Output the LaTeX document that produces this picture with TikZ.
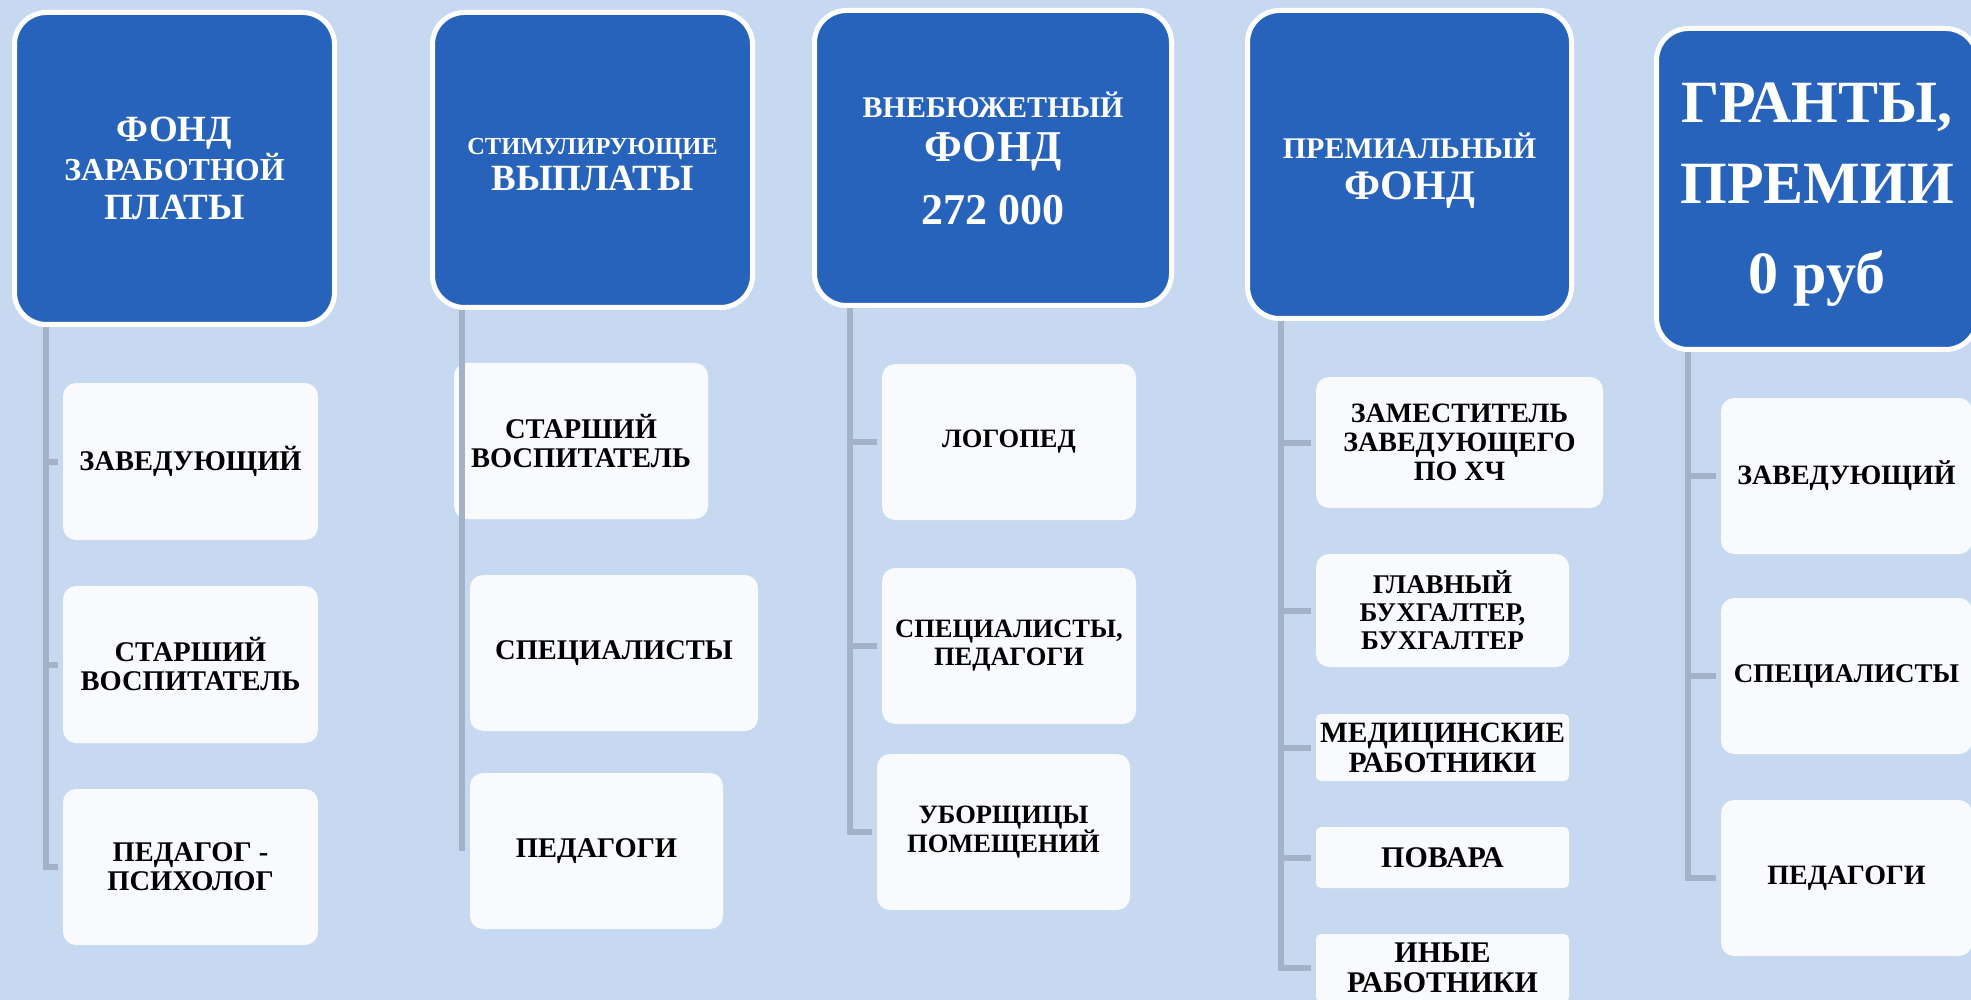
\documentclass[tikz,border=0pt]{standalone}
\usepackage{fontspec}
\setmainfont{Liberation Serif}
\usetikzlibrary{positioning}
\definecolor{pagebg}{HTML}{C6D9F1}
\definecolor{headblue}{HTML}{2763BA}
\definecolor{leafwhite}{HTML}{F8FAFD}
\definecolor{linkgray}{HTML}{A3B2C8}
\newcommand{\fsz}[2]{\fontsize{#1}{#2}\selectfont}
\tikzset{
  head/.style={draw=white,line width=5pt,fill=headblue,rounded corners=32pt,
    text=white,align=center,inner sep=0pt},
  leaf/.style={fill=leafwhite,rounded corners=13pt,align=center,inner sep=0pt,
    font=\bfseries\fsz{28.5}{29}},
  link/.style={linkgray,line width=6pt,shorten >=5pt}
}

\begin{document}
\begin{tikzpicture}[x=1pt,y=-1pt]
  \useasboundingbox (0,0) rectangle (1971,1000);
  \clip (0,0) rectangle (1971,1000);
  \fill[pagebg] (0,0) rectangle (1971,1000);

  % headers
  \node[head,minimum width=320pt,minimum height=312pt,font=\bfseries\fsz{37}{39}] (hA) at (174.5,168.5)
    {ФОНД\\{\fsz{32}{39}ЗАРАБОТНОЙ}\\ПЛАТЫ};
  \node[head,minimum width=320pt,minimum height=295pt,font=\bfseries\fsz{37}{36}] (hB) at (592.5,160)
    {\rule{0pt}{25pt}{\fsz{24.5}{36}СТИМУЛИРУЮЩИЕ}\\ВЫПЛАТЫ};
  \node[head,minimum width=357pt,minimum height=295pt,font=\bfseries\fsz{44}{44}] (hC) at (993,158)
    {{\fsz{30}{44}ВНЕБЮЖЕТНЫЙ}\\ФОНД\\[19pt]272 000};
  \node[head,minimum width=324pt,minimum height=308pt,font=\bfseries\fsz{42}{41}] (hD) at (1409.5,164.5)
    {\rule{0pt}{37pt}{\fsz{30}{41}ПРЕМИАЛЬНЫЙ}\\ФОНД};
  \node[head,minimum width=321pt,minimum height=321pt,font=\bfseries\fsz{60}{81}] (hE) at (1817,189)
    {\rule{0pt}{50pt}ГРАНТЫ,\\ПРЕМИИ\\[9pt]0 руб};

  % first column
  \node[leaf,minimum width=255pt,minimum height=157pt] (a1) at (190.5,461.5) {ЗАВЕДУЮЩИЙ};
  \node[leaf,minimum width=255pt,minimum height=157pt] (a2) at (190.5,664.5) {СТАРШИЙ\\ВОСПИТАТЕЛЬ};
  \node[leaf,minimum width=255pt,minimum height=156pt] (a3) at (190.5,867) {ПЕДАГОГ -\\ПСИХОЛОГ};

  % second column
  \node[leaf,minimum width=254pt,minimum height=156pt] (b1) at (581,441) {СТАРШИЙ\\ВОСПИТАТЕЛЬ};
  \node[leaf,minimum width=288pt,minimum height=156pt] (b2) at (614,653) {СПЕЦИАЛИСТЫ};
  \node[leaf,minimum width=253pt,minimum height=156pt] (b3) at (596.5,851) {ПЕДАГОГИ};

  % third column
  \node[leaf,minimum width=254pt,minimum height=156pt,font=\bfseries\fsz{26.5}{28}] (c1) at (1009,442) {ЛОГОПЕД};
  \node[leaf,minimum width=254pt,minimum height=156pt,font=\bfseries\fsz{26.5}{28}] (c2) at (1009,646) {СПЕЦИАЛИСТЫ,\\ПЕДАГОГИ};
  \node[leaf,minimum width=253pt,minimum height=156pt,font=\bfseries\fsz{26.5}{28}] (c3) at (1003.5,832) {УБОРЩИЦЫ\\ПОМЕЩЕНИЙ};

  % fourth column
  \node[leaf,minimum width=287pt,minimum height=131pt,font=\bfseries\fsz{28}{29}] (d1) at (1459.5,442.5) {ЗАМЕСТИТЕЛЬ\\ЗАВЕДУЮЩЕГО\\ПО ХЧ};
  \node[leaf,minimum width=253pt,minimum height=113pt,font=\bfseries\fsz{27}{28}] (d2) at (1442.5,610.5) {ГЛАВНЫЙ\\БУХГАЛТЕР,\\БУХГАЛТЕР};
  \node[leaf,minimum width=253pt,minimum height=67pt,rounded corners=5pt,font=\bfseries\fsz{29.5}{30}] (d3) at (1442.5,747.5) {МЕДИЦИНСКИЕ\\РАБОТНИКИ};
  \node[leaf,minimum width=253pt,minimum height=61pt,rounded corners=5pt,font=\bfseries\fsz{30}{30}] (d4) at (1442.5,857.5) {ПОВАРА};
  \node[leaf,minimum width=253pt,minimum height=68pt,rounded corners=5pt,font=\bfseries\fsz{30}{30}] (d5) at (1442.5,968) {ИНЫЕ\\РАБОТНИКИ};

  % fifth column
  \node[leaf,minimum width=251pt,minimum height=156pt,font=\bfseries\fsz{28}{29}] (e1) at (1846.5,476) {ЗАВЕДУЮЩИЙ};
  \node[leaf,minimum width=251pt,minimum height=156pt,font=\bfseries\fsz{27}{29}] (e2) at (1846.5,676) {СПЕЦИАЛИСТЫ};
  \node[leaf,minimum width=251pt,minimum height=156pt,font=\bfseries\fsz{28}{29}] (e3) at (1846.5,878) {ПЕДАГОГИ};

  % connectors
  \coordinate (tA) at (46,327);
  \coordinate (tB) at (462,310);
  \coordinate (tC) at (850,308);
  \coordinate (tD) at (1281,321);
  \coordinate (tE) at (1688,352);
  \foreach \n in {a1,a2,a3}
    \draw[link] (tA) |- (\n.west);
  \draw[link,shorten >=0pt] (tB) -- (tB |- b3.west);
  \foreach \n in {c1,c2,c3}
    \draw[link] (tC) |- (\n.west);
  \foreach \n in {d1,d2,d3,d4,d5}
    \draw[link] (tD) |- (\n.west);
  \foreach \n in {e1,e2,e3}
    \draw[link] (tE) |- (\n.west);
\end{tikzpicture}
\end{document}
